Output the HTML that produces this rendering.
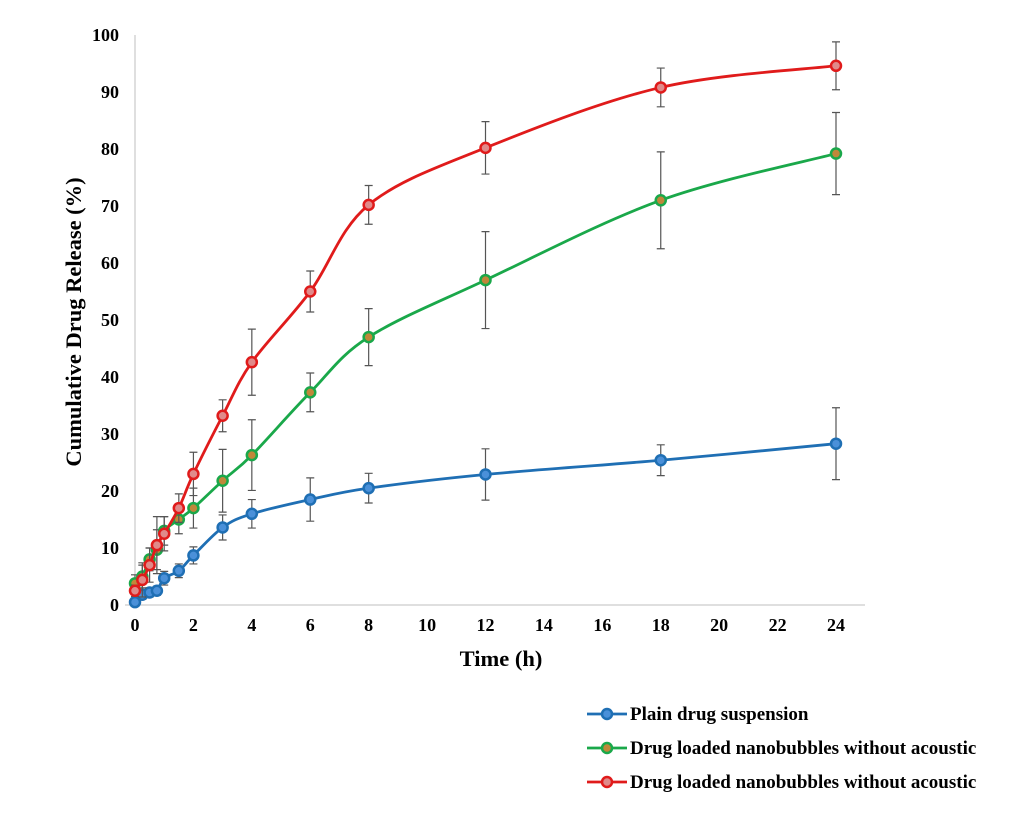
<!DOCTYPE html>
<html><head><meta charset="utf-8"><style>
body{margin:0;background:#fff;}
svg text{font-family:"Liberation Serif",serif;font-weight:bold;fill:#000;}
</style></head><body>
<svg id="chart" width="1028" height="818" xmlns="http://www.w3.org/2000/svg">
<rect width="1028" height="818" fill="#fff"/>
<g id="axes"></g>
<g id="series"></g>
<text transform="translate(81,322) rotate(-90)" text-anchor="middle" font-size="22.5">Cumulative Drug Release (%)</text>
<text x="501" y="666" text-anchor="middle" font-size="22.5">Time (h)</text>
<g id="legend"></g>
</svg>
<script>
const times=[0,0.25,0.5,0.75,1,1.5,2,3,4,6,8,12,18,24];
const plainVals=[0.5,1.8,2.2,2.5,4.7,6,8.7,13.6,16,18.5,20.5,22.9,25.4,28.3];
const plainErr=[0.5,0.8,0.8,0.8,1.2,1.2,1.5,2.2,2.5,3.8,2.6,4.5,2.7,6.3];
const greenVals=[3.8,5,8,9.7,13,15,17,21.8,26.3,37.3,47,57,71,79.2];
const greenErr=[1.5,2,2,3.5,2.5,2.5,3.5,5.5,6.2,3.4,5,8.5,8.5,7.2];
const redVals=[2.5,4.4,7,10.5,12.5,17,23,33.2,42.6,55,70.2,80.2,90.8,94.6];
const redErr=[1,3,3,5,3,2.5,3.8,2.8,5.8,3.6,3.4,4.6,3.4,4.2];
const xTicks=[0,2,4,6,8,10,12,14,16,18,20,22,24];
const yTicks=[0,10,20,30,40,50,60,70,80,90,100];
const legendLabels=["Plain drug suspension","Drug loaded nanobubbles without acoustic","Drug loaded nanobubbles without acoustic"];
const NS="http://www.w3.org/2000/svg";
const X=t=>135+t*(836-135)/24;
const Y=v=>605-v*5.7;
function mk(tag,attrs,parent){const e=document.createElementNS(NS,tag);for(const k in attrs)e.setAttribute(k,attrs[k]);parent.appendChild(e);return e;}
const axes=document.getElementById('axes');
let ya=mk('line',{x1:135,y1:Y(100),x2:135,y2:605,stroke:'#bfbfbf','stroke-width':1},axes);


let xa=mk('line',{x1:125,y1:605,x2:865,y2:605,stroke:'#bfbfbf','stroke-width':1},axes);


yTicks.forEach(v=>{const t=mk('text',{x:119,y:Y(v)+6,'text-anchor':'end','font-size':18},axes);t.textContent=v;

});
xTicks.forEach(v=>{const t=mk('text',{x:X(v),y:631,'text-anchor':'middle','font-size':18},axes);t.textContent=v;

});
function spline(pts){let d=`M${pts[0][0]},${pts[0][1]}`;for(let i=0;i<pts.length-1;i++){const p0=pts[Math.max(i-1,0)],p1=pts[i],p2=pts[i+1],p3=pts[Math.min(i+2,pts.length-1)];
const c1=[p1[0]+(p2[0]-p0[0])/6,p1[1]+(p2[1]-p0[1])/6],c2=[p2[0]-(p3[0]-p1[0])/6,p2[1]-(p3[1]-p1[1])/6];
d+=`C${c1[0]},${c1[1]} ${c2[0]},${c2[1]} ${p2[0]},${p2[1]}`;}return d;}
const seriesG=document.getElementById('series');
const defs=[[plainVals,plainErr,'#1f6fb4','#4a90d9','plain'],[greenVals,greenErr,'#1aa84a','#c0873a','green'],[redVals,redErr,'#e01b1b','#e08a8a','red']];
defs.forEach(([vals,errs,col,fill,nm])=>{
 const g=mk('g',{},seriesG);
 times.forEach((t,i)=>{const x=X(t),a=Y(vals[i]+errs[i]),b=Y(vals[i]-errs[i]);
  const e=mk('path',{d:`M${x},${a}V${b}M${x-4},${a}H${x+4}M${x-4},${b}H${x+4}`,stroke:'#555','stroke-width':1.2,fill:'none'},g);
  
  });
 const l=mk('path',{d:spline(times.map((t,i)=>[X(t),Y(vals[i])])),stroke:col,'stroke-width':2.8,fill:'none'},g);
 
 
 times.forEach((t,i)=>{const c=mk('circle',{cx:X(t),cy:Y(vals[i]),r:5,fill:fill,stroke:col,'stroke-width':2.5},g);
  
  });
});
const lg=document.getElementById('legend');
defs.forEach((d,i)=>{const y=714+i*34;
 const g=mk('g',{},lg);
 mk('line',{x1:587,y1:y,x2:627,y2:y,stroke:d[2],'stroke-width':2.8},g);
 mk('circle',{cx:607,cy:y,r:5,fill:d[3],stroke:d[2],'stroke-width':2.5},g);
 const t=mk('text',{x:630,y:y+6,'font-size':19},g);t.textContent=legendLabels[i];});
</script>
</body></html>
